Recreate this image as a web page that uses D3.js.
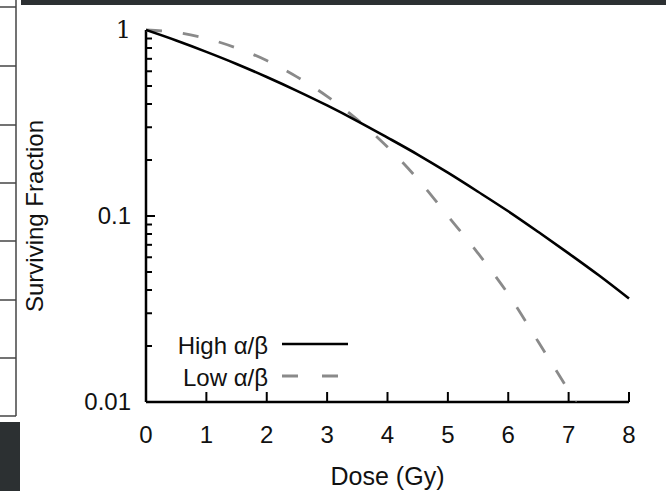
<!DOCTYPE html>
<html>
<head>
<meta charset="utf-8">
<script src="https://cdn.jsdelivr.net/npm/d3@7"></script>
<style>
  body { margin: 0; background: #fff; }
  text { font-family: "Liberation Sans", Arial, sans-serif; fill: #111; }
</style>
</head>
<body>
<div id="chart"></div>
<script>
// values
var doses = [0, 0.5, 1, 1.5, 2, 2.5, 3, 3.5, 4, 4.5, 5, 5.5, 6, 6.5, 7, 7.5, 8];
var highAB = [1, 0.878, 0.763, 0.657, 0.559, 0.471, 0.393, 0.324, 0.264, 0.214, 0.171, 0.135, 0.106, 0.082, 0.063, 0.048, 0.036];
var lowAB = [1, 0.97, 0.90, 0.80, 0.685, 0.56, 0.44, 0.33, 0.235, 0.158, 0.10, 0.063, 0.038, 0.021, 0.0115, 0.006];
var xTicks = [0, 1, 2, 3, 4, 5, 6, 7, 8];
var yTickLabels = [1, 0.1, 0.01];
var legendNames = ["High α/β", "Low α/β"];

var W = 666, H = 491;
var margin = {left: 146, right: 37, top: 30, bottom: 89};

var svg = d3.select("#chart").append("svg")
	.attr("width", W)
	.attr("height", H);

// screenshot leftovers around the figure
svg.append("rect").attr("x", 21).attr("y", 0).attr("width", W - 21).attr("height", 5).attr("fill", "#2c3032");
svg.append("rect").attr("x", 0).attr("y", 422).attr("width", 20).attr("height", H - 422).attr("fill", "#2c3032");
svg.append("line").attr("x1", 16).attr("x2", 16).attr("y1", 0).attr("y2", 416)
	.attr("stroke", "#444").attr("stroke-width", 1.5);
[7, 66, 125, 183, 241, 300, 358, 416].forEach(function(y){
	svg.append("line").attr("x1", 0).attr("x2", 16).attr("y1", y).attr("y2", y)
		.attr("stroke", "#444").attr("stroke-width", 1.5);
});

var x = d3.scaleLinear().domain([0, 8]).range([margin.left, W - margin.right]);
var y = d3.scaleLog().domain([0.01, 1]).range([H - margin.bottom, margin.top]);

// y axis, ticks pointing inward
var gy = svg.append("g").attr("transform", "translate(" + x(0) + ",0)");
gy.append("line").attr("x1", 0).attr("x2", 0).attr("y1", y(1)).attr("y2", y(0.01))
	.attr("stroke", "#000").attr("stroke-width", 2.5);
gy.selectAll(".ytick").data(y.ticks()).enter().append("line")
	.attr("x1", 0)
	.attr("x2", function(d){ return yTickLabels.indexOf(+d.toPrecision(3)) >= 0 ? 9 : 6; })
	.attr("y1", function(d){ return y(d); })
	.attr("y2", function(d){ return y(d); })
	.attr("stroke", "#000").attr("stroke-width", 2);
gy.selectAll(".ylab").data(yTickLabels).enter().append("text")
	.attr("x", -15)
	.attr("y", function(d){ return y(d) + 8; })
	.attr("text-anchor", "end")
	.style("font-size", "24px")
	.style("font-family", function(d){ return d == 1 ? "'DejaVu Serif', serif" : null; })
	.text(function(d){ return d; });

// x axis
var gx = svg.append("g").attr("transform", "translate(0," + y(0.01) + ")");
gx.append("line").attr("x1", x(0)).attr("x2", x(8)).attr("y1", 0).attr("y2", 0)
	.attr("stroke", "#000").attr("stroke-width", 2.5);
gx.selectAll(".xtick").data(xTicks).enter().append("line")
	.attr("x1", function(d){ return x(d); })
	.attr("x2", function(d){ return x(d); })
	.attr("y1", 0).attr("y2", -10)
	.attr("stroke", "#000").attr("stroke-width", 2);
gx.selectAll(".xlab").data(xTicks).enter().append("text")
	.attr("x", function(d){ return x(d); })
	.attr("y", 41)
	.attr("text-anchor", "middle")
	.style("font-size", "24px")
	.text(function(d){ return d; });

// axis titles
svg.append("text")
	.attr("x", (x(0) + x(8)) / 2)
	.attr("y", 485)
	.attr("text-anchor", "middle")
	.style("font-size", "25px")
	.text("Dose (Gy)");
svg.append("text")
	.attr("transform", "translate(43," + (y(0.1)) + ") rotate(-90)")
	.attr("text-anchor", "middle")
	.style("font-size", "24px")
	.text("Surviving Fraction");

// curves
svg.append("clipPath").attr("id", "plotClip")
	.append("rect")
	.attr("x", x(0)).attr("y", y(1) - 5)
	.attr("width", x(8) - x(0) + 5).attr("height", y(0.01) - y(1) + 5);

var line = d3.line()
	.curve(d3.curveMonotoneX)
	.x(function(d){ return x(d[0]); })
	.y(function(d){ return y(d[1]); });

svg.append("path")
	.datum(d3.zip(doses, lowAB))
	.attr("clip-path", "url(#plotClip)")
	.attr("d", line)
	.attr("fill", "none")
	.attr("stroke", "#8a8a8a")
	.attr("stroke-width", 2.8)
	.attr("stroke-dasharray", "16,21");

svg.append("path")
	.datum(d3.zip(doses, highAB))
	.attr("clip-path", "url(#plotClip)")
	.attr("d", line)
	.attr("fill", "none")
	.attr("stroke", "#000")
	.attr("stroke-width", 2.6);

// legend
var legend = svg.append("g");
legendNames.forEach(function(name, i){
	var ly = 344 + i * 32;
	legend.append("text")
		.attr("x", 268)
		.attr("y", ly + 10)
		.attr("text-anchor", "end")
		.style("font-size", "24px")
		.text(name);
	legend.append("line")
		.attr("x1", 282).attr("x2", 348)
		.attr("y1", ly).attr("y2", ly)
		.attr("stroke", i == 0 ? "#000" : "#8a8a8a")
		.attr("stroke-width", i == 0 ? 2.6 : 2.8)
		.attr("stroke-dasharray", i == 0 ? null : "16,24");
});
</script>
</body>
</html>
